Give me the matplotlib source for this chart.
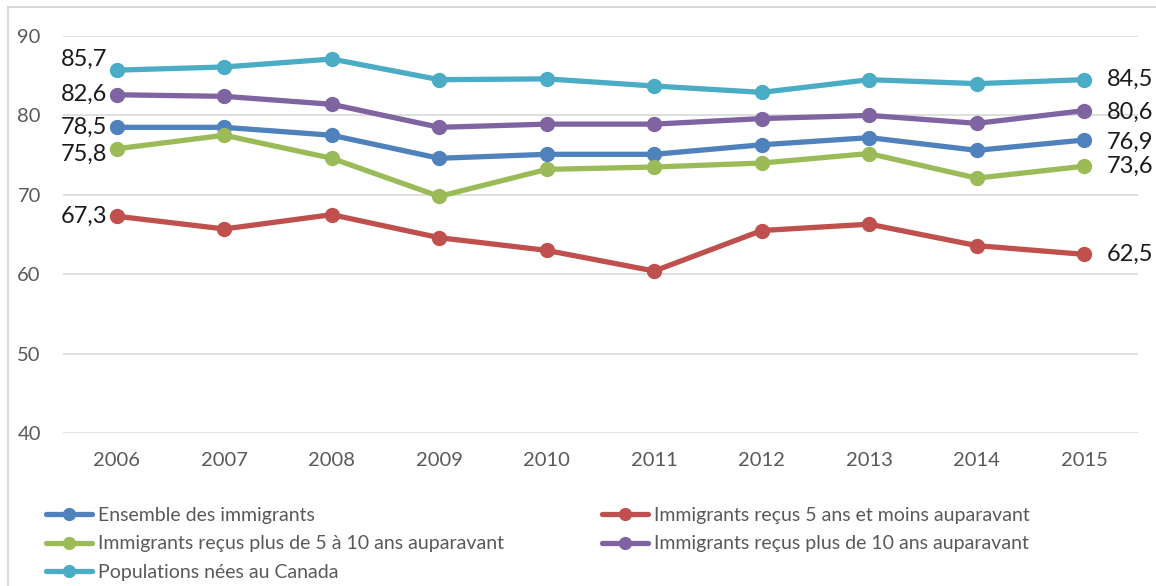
import matplotlib
matplotlib.use("Agg")
import matplotlib.pyplot as plt
from matplotlib.patches import Rectangle

plt.rcParams['font.family'] = ['Lato', 'DejaVu Sans']

years = ["2006", "2007", "2008", "2009", "2010", "2011", "2012", "2013", "2014", "2015"]

ensemble = [78.5, 78.5, 77.5, 74.6, 75.1, 75.1, 76.3, 77.2, 75.6, 76.9]
recents = [67.3, 65.7, 67.5, 64.6, 63.0, 60.4, 65.5, 66.3, 63.6, 62.5]
cinq_dix = [75.8, 77.5, 74.6, 69.8, 73.2, 73.5, 74.0, 75.2, 72.1, 73.6]
plus_dix = [82.6, 82.4, 81.4, 78.5, 78.9, 78.9, 79.6, 80.0, 79.0, 80.6]
canada = [85.7, 86.1, 87.1, 84.5, 84.6, 83.7, 82.9, 84.5, 84.0, 84.5]

names = [
    "Ensemble des immigrants",
    "Immigrants reçus 5 ans et moins auparavant",
    "Immigrants reçus plus de 5 à 10 ans auparavant",
    "Immigrants reçus plus de 10 ans auparavant",
    "Populations nées au Canada",
]
series = [ensemble, recents, cinq_dix, plus_dix, canada]
colors = ["#4F81BD", "#C0504D", "#9BBB59", "#8064A2", "#4BACC6"]

# label offsets in points (first point, last point)
first_off = [(0, 0), (0, 0), (0, -4), (0, 0), (0, 8)]
last_off = [(0, -1.5), (0, 0), (0, 0), (0, -1.5), (0, 0)]

fig = plt.figure(figsize=(11.56, 5.86), dpi=100)
ax = fig.add_axes([63 / 1156, 1 - 433 / 586, (1138 - 63) / 1156, (433 - 36) / 586])

# chart frame: only its top and left edges fall inside the canvas
fig.patches.append(Rectangle((8 / 1156, -0.2), 1.5, 1.2 - 7 / 586,
                             transform=fig.transFigure, fill=False,
                             edgecolor="#D9D9D9", linewidth=1.5))

x = list(range(len(years)))
handles = []
for vals, name, col, fo, lo in zip(series, names, colors, first_off, last_off):
    h, = ax.plot(x, vals, color=col, lw=3.8, marker="o", ms=10,
                 solid_capstyle="round", label=name, zorder=3)
    handles.append(h)
    ax.annotate(f"{vals[0]:.1f}".replace(".", ","), (x[0], vals[0]),
                xytext=(-7 + fo[0], fo[1]), textcoords="offset points",
                ha="right", va="center", fontsize=17, color="#1a1a1a")
    ax.annotate(f"{vals[-1]:.1f}".replace(".", ","), (x[-1], vals[-1]),
                xytext=(16 + lo[0], lo[1]), textcoords="offset points",
                ha="left", va="center", fontsize=17, color="#1a1a1a")

ax.set_xlim(-0.5, len(years) - 0.5)
ax.set_ylim(40, 90)
ax.set_yticks([40, 50, 60, 70, 80, 90])
ax.set_xticks(x)
ax.set_xticklabels(years)
ax.tick_params(axis="both", length=0, labelsize=14.5, colors="#595959")
ax.tick_params(axis="y", pad=16)
ax.tick_params(axis="x", pad=14)
ax.grid(axis="y", color="#D9D9D9", lw=1.2)
ax.set_axisbelow(True)
for s in ax.spines.values():
    s.set_visible(False)

order = [0, 2, 4, 1, 3]
leg = fig.legend([handles[i] for i in order], [names[i] for i in order],
                 ncol=2, loc="upper left", bbox_to_anchor=(38 / 1156, 1 - 499 / 586),
                 frameon=False, fontsize=14, handlelength=2.4, handletextpad=0.3,
                 columnspacing=5.0, labelspacing=0.6, borderaxespad=0,
                 markerscale=0.85)
for t in leg.get_texts():
    t.set_color("#595959")

fig.savefig("out.png", dpi=100, facecolor="white")
